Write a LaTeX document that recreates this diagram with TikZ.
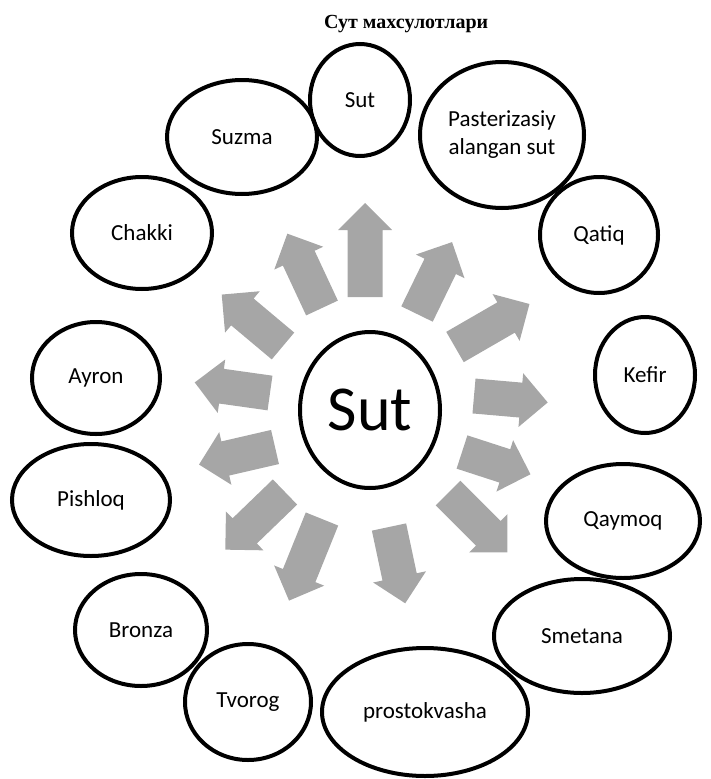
\documentclass[tikz,border=0pt]{standalone}
\usepackage{fontspec}
\setmainfont{Carlito}
\newfontfamily\titlefont{Liberation Serif}
\usetikzlibrary{shapes.geometric}

\tikzset{
  product/.style={ellipse, draw=black, line width=4pt, inner sep=0pt,
    align=center, font=\fontsize{23}{28}\selectfont},
  arrowfill/.style={fill=black!35},
}

% block arrow: base centre (x,y), direction angle, total length
\newcommand\radarrow[4]{%
  \fill[arrowfill, shift={(#1,#2)}, rotate=#3]
    (0,-17.5) -- (#4-27,-17.5) -- (#4-27,-27) -- (#4,0)
    -- (#4-27,27) -- (#4-27,17.5) -- (0,17.5) -- cycle;}

\begin{document}
\begin{tikzpicture}[x=1pt, y=-1pt]
\useasboundingbox (0,0) rectangle (710,779);

% title
\node[anchor=base west, inner sep=0pt, font=\titlefont\bfseries\fontsize{20}{24}\selectfont]
  (title) at (324,28) {Сут махсулотлари};

% radial arrows
\radarrow{365}{297}{90}{94}
\radarrow{322}{308}{115}{82}
\radarrow{283}{346}{140}{80}
\radarrow{270}{393}{172}{76}
\radarrow{275}{447}{193}{78}
\radarrow{285}{492}{224}{83}
\radarrow{322}{519}{248}{88}
\radarrow{389}{527}{282}{78}
\radarrow{448}{493}{315}{84}
\radarrow{462}{452}{342}{72}
\radarrow{474}{396}{355}{74}
\radarrow{455}{347}{30}{86}
\radarrow{417}{314}{64}{80}

% central node
\node[product, minimum width=140pt, minimum height=156pt, font=\fontsize{64}{70}\selectfont]
  (centre) at (370,410) {Sut};

% products
\node[product, minimum width=100pt, minimum height=112pt] (sut)     at (360,100) {Sut};
\node[product, minimum width=150pt, minimum height=114pt] (suzma)   at (242,137) {Suzma};
\node[product, minimum width=164pt, minimum height=146pt] (pasteur) at (502,135) {Pasterizasiy\\alangan sut};
\node[product, minimum width=140pt, minimum height=112pt] (chakki)  at (142,233) {Chakki};
\node[product, minimum width=118pt, minimum height=116pt] (qatiq)   at (599,235) {Qatiq};
\node[product, minimum width=128pt, minimum height=112pt] (ayron)   at (96,378)  {Ayron};
\node[product, minimum width=100pt, minimum height=116pt] (kefir)   at (645,375) {Kefir};
\node[product, minimum width=158pt, minimum height=112pt] (pishloq) at (91,500)  {Pishloq};
\node[product, minimum width=154pt, minimum height=114pt] (qaymoq)  at (623,521) {Qaymoq};
\node[product, minimum width=132pt, minimum height=112pt] (bronza)  at (141,630) {Bronza};
\node[product, minimum width=176pt, minimum height=114pt] (smetana) at (582,636) {Smetana};
\node[product, minimum width=126pt, minimum height=116pt] (tvorog)  at (248,702) {Tvorog};
\node[product, minimum width=206pt, minimum height=128pt] (prosto)  at (425,712) {prostokvasha};
\end{tikzpicture}
\end{document}
